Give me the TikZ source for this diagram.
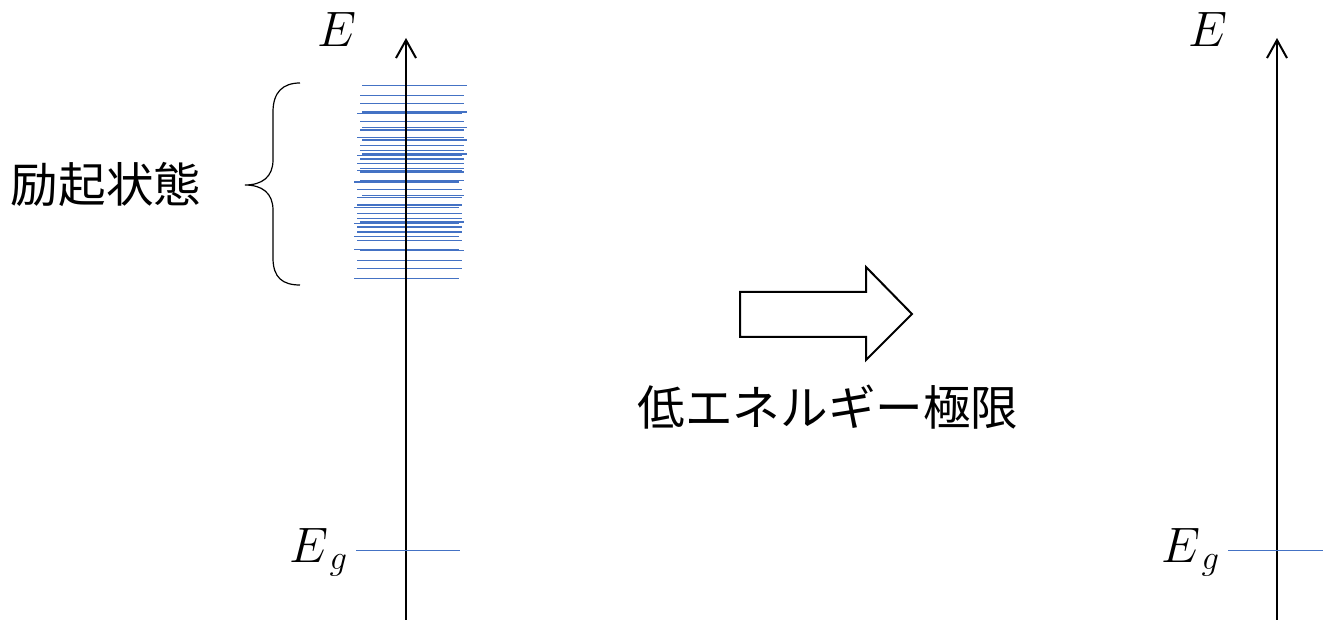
\documentclass[tikz,border=0pt]{standalone}
\usepackage{fontspec}
\newfontfamily\jp{Noto Sans CJK JP}
\usetikzlibrary{arrows.meta}
\definecolor{lvl}{RGB}{68,114,196}
\tikzset{
  axis/.style={line width=1pt,-{Straight Barb[length=9pt,width=10pt]}},
  level/.style={draw=lvl,line width=0.75pt},
  elabel/.style={inner sep=0pt,font=\fontsize{25.5}{30}\selectfont},
  jplabel/.style={inner sep=0pt,font=\fontsize{23.8}{28}\selectfont\jp},
  blockarrow/.style={draw=black,line width=1pt,line join=miter,fill=white}
}
\newcommand{\Eg}{$E$\kern0.6pt\raisebox{-3.5pt}{\fontsize{19}{19}\selectfont$g$}}
\begin{document}
\begin{tikzpicture}[x=0.5pt,y=-0.5pt]
\useasboundingbox (0,0) rectangle (1323,620);
% excited levels (one path)
\draw[level] foreach \yy/\xa/\xb in {85.7/362/467,95.7/360/464,103.7/360/464,112/362/467,113.3/357/462,
  121.7/360/464,127.3/362/467,130/360/464,137.3/357/464,140/362/467,145.7/360/464,
  150.7/360/464,154/362/467,155.3/357/462,159/360/464,163.7/357/464,168.3/360/464,
  170.7/357/462,172/360/464,180.7/360/464,182/354/459,189.3/357/462,195.7/362/464,
  197.7/357/462,205/357/462,207.3/354/459,213.7/357/462,218.3/357/462,222/360/464,
  223.7/354/459,227/357/462,232/357/462,236.3/354/459,240.3/357/462,249.7/354/459,
  250.7/360/464,260.7/357/462,268.7/357/462,278.7/354/459}
  {(\xa,\yy) -- (\xb,\yy)};
% left axis
\coordinate (La0) at (406,620);
\coordinate (La1) at (406,38);
\draw[axis] (La0) -- (La1);
\node[elabel] (LE) at (337,30) {$E$};
% right axis
\coordinate (Ra0) at (1277,620);
\coordinate (Ra1) at (1277,38);
\draw[axis] (Ra0) -- (Ra1);
\node[elabel] (RE) at (1208,30) {$E$};
% ground levels
\coordinate (Lg0) at (356,550.5);
\coordinate (Lg1) at (460,550.5);
\draw[level] (Lg0) -- (Lg1);
\node[elabel,anchor=base west] (LEg) at (289,562) {\Eg};
\coordinate (Rg0) at (1228,550.5);
\coordinate (Rg1) at (1323,550.5);
\draw[level] (Rg0) -- (Rg1);
\node[elabel,anchor=base west] (REg) at (1161,562) {\Eg};
% brace
\coordinate (Bt) at (300,83);
\coordinate (Bm) at (245,185);
\coordinate (Bb) at (300,285);
\draw[line width=0.6pt] (Bt) .. controls (283,83) and (273,92) .. (273,112)
  -- (273,160) .. controls (273,177) and (262,185) .. (Bm)
  .. controls (262,185) and (273,193) .. (273,210)
  -- (273,258) .. controls (273,278) and (283,285) .. (Bb);
\node[jplabel] (exc) at (106,184) {励起状態};
% block arrow
\draw[blockarrow] (740,292) -- (866,292) -- (866,267) -- (912,314) -- (866,360)
  -- (866,337) -- (740,337) -- cycle;
\node[jplabel] (low) at (828,407) {低エネルギー極限};
\end{tikzpicture}
\end{document}
